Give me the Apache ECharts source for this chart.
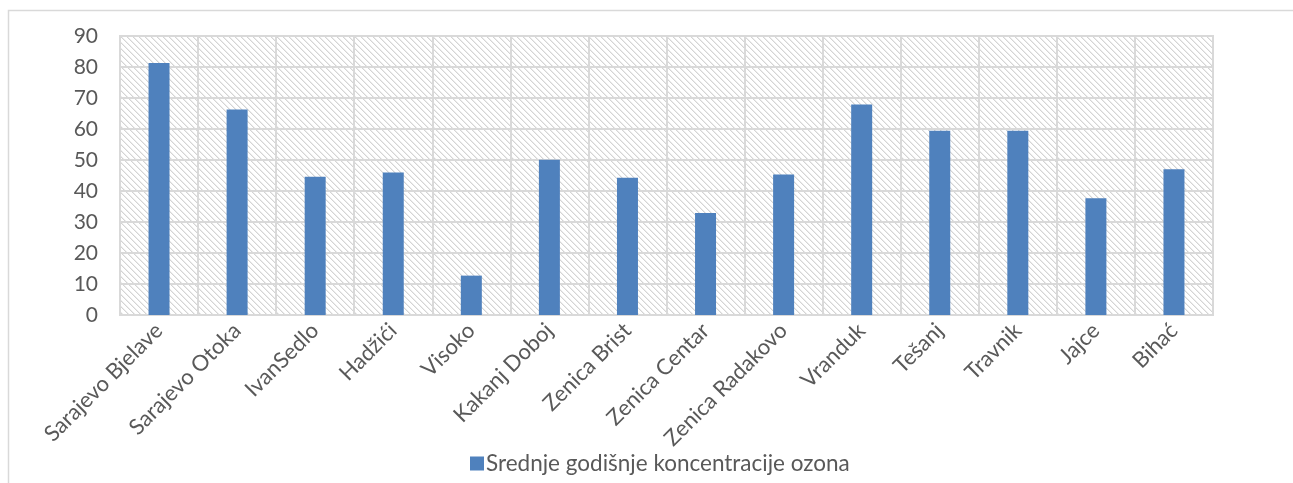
<!DOCTYPE html>
<html>
<head>
<meta charset="utf-8">
<script src="https://cdn.jsdelivr.net/npm/echarts@6/dist/echarts.min.js"></script>
<style>
  html, body { margin: 0; padding: 0; background: #ffffff; }
  #chart { width: 1293px; height: 483px; }
</style>
</head>
<body>
<div id="chart"></div>
<script>
// Measuring stations
const stations = [
  'Sarajevo Bjelave', 'Sarajevo Otoka', 'IvanSedlo', 'Hadžići', 'Visoko',
  'Kakanj Doboj', 'Zenica Brist', 'Zenica Centar', 'Zenica Radakovo',
  'Vranduk', 'Tešanj', 'Travnik', 'Jajce', 'Bihać'
];
// Mean annual ozone concentration per station
const ozone = [81.3, 66.3, 44.6, 46.0, 12.7, 50.1, 44.3, 32.9, 45.3, 67.9, 59.4, 59.4, 37.7, 47.0];
const seriesName = 'Srednje godišnje koncentracije ozona';
// Value axis range
const yMin = 0, yMax = 90, yStep = 10;

// Diagonal hatch fill for the plot background
function hatch() {
  const n = 6;
  const c = document.createElement('canvas');
  c.width = n; c.height = n;
  const g = c.getContext('2d');
  g.fillStyle = '#ffffff';
  g.fillRect(0, 0, n, n);
  for (let i = 0; i < n; i++) {
    g.fillStyle = '#d4d4d4';
    g.fillRect(i, i, 1, 1);
    g.fillStyle = '#ececec';
    g.fillRect((i + 1) % n, i, 1, 1);
  }
  return c;
}

const font = 'Lato, "Open Sans", sans-serif';
const textColor = '#595959';
const lineColor = '#d9d9d9';

const chart = echarts.init(document.getElementById('chart'), null, { renderer: 'canvas' });
chart.setOption({
  animation: false,
  backgroundColor: '#ffffff',
  graphic: [{
    type: 'rect',
    left: 6, top: 8,
    shape: { width: 1400, height: 600 },
    style: { fill: 'none', stroke: lineColor, lineWidth: 1.5 },
    silent: true
  }],
  grid: {
    left: 120, right: 80, top: 36, bottom: 168,
    show: true,
    backgroundColor: { image: hatch(), repeat: 'repeat' },
    borderColor: lineColor,
    borderWidth: 2
  },
  legend: {
    left: 470, top: 452, padding: 0,
    itemWidth: 14, itemHeight: 14, itemGap: 10,
    icon: 'rect',
    textStyle: { fontFamily: font, fontSize: 22.5, color: textColor, padding: [0, 0, 0, -3] },
    data: [seriesName]
  },
  xAxis: {
    type: 'category',
    data: stations,
    boundaryGap: true,
    axisLine: { show: true, lineStyle: { color: lineColor, width: 2 } },
    axisTick: { show: false },
    splitLine: { show: true, lineStyle: { color: lineColor, width: 2 } },
    axisLabel: {
      interval: 0, rotate: 45, margin: 12,
      fontFamily: font, fontSize: 22, color: textColor
    }
  },
  yAxis: {
    type: 'value',
    min: yMin, max: yMax, interval: yStep,
    axisLine: { show: false },
    axisTick: { show: false },
    splitLine: { show: true, lineStyle: { color: lineColor, width: 2 } },
    axisLabel: { margin: 22, fontFamily: font, fontSize: 21, color: textColor }
  },
  series: [{
    name: seriesName,
    type: 'bar',
    data: ozone,
    barWidth: 21,
    itemStyle: { color: '#4f81bd' }
  }]
});
</script>
</body>
</html>
